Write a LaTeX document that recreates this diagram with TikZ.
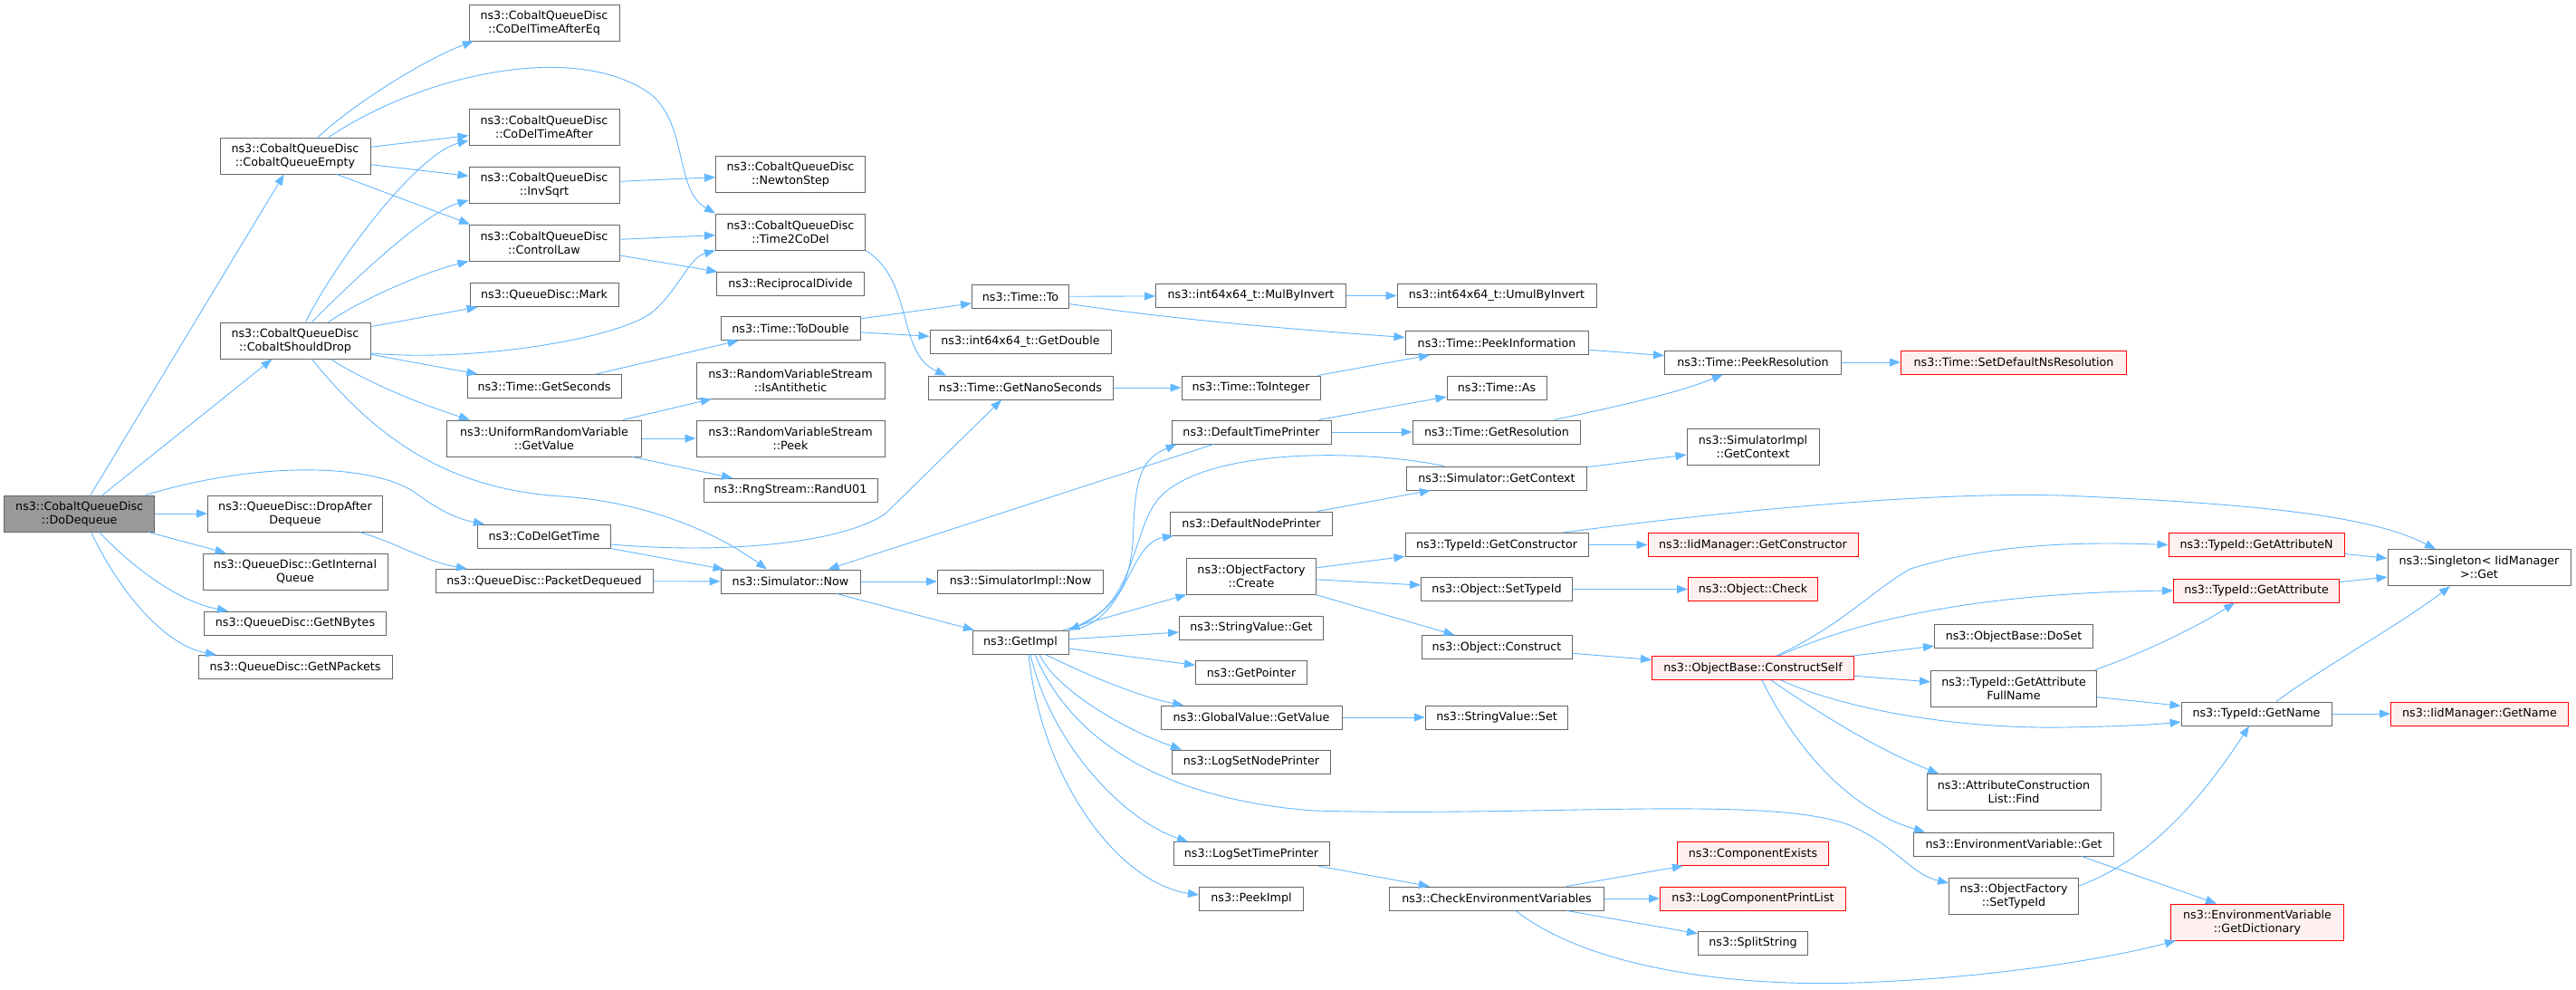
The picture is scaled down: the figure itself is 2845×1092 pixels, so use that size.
\documentclass[tikz,border=0pt]{standalone}
\usepackage{fontspec}
\setmainfont{DejaVu Sans}
\usetikzlibrary{arrows.meta}
\definecolor{edgeblue}{HTML}{63B8FF}
\definecolor{nodegray}{HTML}{666666}
\definecolor{rootgray}{HTML}{999999}
\definecolor{redfill}{HTML}{FFF0F0}
\definecolor{redline}{HTML}{FF0000}
\begin{document}
\begin{tikzpicture}[x=1pt,y=-1pt,
 fn/.style={draw=nodegray, fill=white, line width=1pt, minimum height=26pt, inner sep=0pt, align=center, font=\fontsize{12.7}{15}\selectfont},
 two/.style={minimum height=40pt},
 bw/.style={minimum width=#1pt},
 redn/.style={draw=redline, fill=redfill},
 rootn/.style={fill=rootgray},
 arr/.style={draw=edgeblue, line width=0.9pt, -{Triangle[length=12pt,width=9pt]}},
]
\fill[white] (0,0) rectangle (2845,1092);
\useasboundingbox (0,0) rectangle (2845,1092);
% column 1
\node[fn,rootn,two,bw=166] (dd) at (87.7,567) {ns3::CobaltQueueDisc\\::DoDequeue};
% column 2
\node[fn,two,bw=166] (cqe) at (326,172) {ns3::CobaltQueueDisc\\::CobaltQueueEmpty};
\node[fn,two,bw=166] (csd) at (326,376) {ns3::CobaltQueueDisc\\::CobaltShouldDrop};
\node[fn,two,bw=193] (dad) at (326,567) {ns3::QueueDisc::DropAfter\\Dequeue};
\node[fn,two,bw=204] (giq) at (326,631) {ns3::QueueDisc::GetInternal\\Queue};
\node[fn,bw=201] (gnb) at (326,688) {ns3::QueueDisc::GetNBytes};
\node[fn,bw=214] (gnp) at (326,736.5) {ns3::QueueDisc::GetNPackets};
% column 3
\node[fn,two,bw=166] (tae) at (601,25) {ns3::CobaltQueueDisc\\::CoDelTimeAfterEq};
\node[fn,two,bw=166] (ta) at (601,140) {ns3::CobaltQueueDisc\\::CoDelTimeAfter};
\node[fn,two,bw=166] (isq) at (601,204) {ns3::CobaltQueueDisc\\::InvSqrt};
\node[fn,two,bw=166] (cl) at (601,268) {ns3::CobaltQueueDisc\\::ControlLaw};
\node[fn,bw=164] (mark) at (601,325.5) {ns3::QueueDisc::Mark};
\node[fn,bw=170] (gs) at (601,426.5) {ns3::Time::GetSeconds};
\node[fn,two,bw=215] (urv) at (601,484) {ns3::UniformRandomVariable\\::GetValue};
\node[fn,bw=147] (cgt) at (601,592) {ns3::CoDelGetTime};
\node[fn,bw=240] (pd) at (601,641.5) {ns3::QueueDisc::PacketDequeued};
% column 4
\node[fn,two,bw=165] (ns) at (873,192) {ns3::CobaltQueueDisc\\::NewtonStep};
\node[fn,two,bw=165] (t2c) at (873,256) {ns3::CobaltQueueDisc\\::Time2CoDel};
\node[fn,bw=163] (rd) at (873,313.5) {ns3::ReciprocalDivide};
\node[fn,bw=154] (td) at (873,362.5) {ns3::Time::ToDouble};
\node[fn,two,bw=208] (ia) at (873,420) {ns3::RandomVariableStream\\::IsAntithetic};
\node[fn,two,bw=208] (pk) at (873,484) {ns3::RandomVariableStream\\::Peek};
\node[fn,bw=192] (ru) at (873,541.3) {ns3::RngStream::RandU01};
\node[fn,bw=154] (snow) at (873,642) {ns3::Simulator::Now};
% column 5
\node[fn,bw=107] (tto) at (1127,327.5) {ns3::Time::To};
\node[fn,bw=200] (gd) at (1127,377) {ns3::int64x64\_t::GetDouble};
\node[fn,bw=204] (gns) at (1127,428) {ns3::Time::GetNanoSeconds};
\node[fn,bw=183] (sinow) at (1127,642) {ns3::SimulatorImpl::Now};
\node[fn,bw=106] (gi) at (1127,709) {ns3::GetImpl};
% column 6
\node[fn,bw=210] (mbi) at (1381.5,326.5) {ns3::int64x64\_t::MulByInvert};
\node[fn,bw=153] (ti) at (1381.5,428) {ns3::Time::ToInteger};
\node[fn,bw=176] (dtp) at (1382,477) {ns3::DefaultTimePrinter};
\node[fn,bw=179] (dnp) at (1382,578) {ns3::DefaultNodePrinter};
\node[fn,two,bw=143] (ofc) at (1382,636) {ns3::ObjectFactory\\::Create};
\node[fn,bw=159] (svg) at (1382,693) {ns3::StringValue::Get};
\node[fn,bw=123] (gp) at (1382,742.5) {ns3::GetPointer};
\node[fn,bw=200] (gvv) at (1382,792) {ns3::GlobalValue::GetValue};
\node[fn,bw=175] (lsnp) at (1382,841) {ns3::LogSetNodePrinter};
\node[fn,bw=172] (lstp) at (1382,942.7) {ns3::LogSetTimePrinter};
\node[fn,bw=115] (pi) at (1382,992) {ns3::PeekImpl};
% column 7
\node[fn,bw=220] (umbi) at (1653,326.5) {ns3::int64x64\_t::UmulByInvert};
\node[fn,bw=202] (pinf) at (1653,378.5) {ns3::Time::PeekInformation};
\node[fn,bw=110] (tas) at (1653,428) {ns3::Time::As};
\node[fn,bw=185.5] (gres) at (1653,477) {ns3::Time::GetResolution};
\node[fn,bw=199] (sgc) at (1653,528) {ns3::Simulator::GetContext};
\node[fn,bw=202] (tgc) at (1653,601.5) {ns3::TypeId::GetConstructor};
\node[fn,bw=167] (ost) at (1653,650.5) {ns3::Object::SetTypeId};
\node[fn,bw=166] (oc) at (1653,714.5) {ns3::Object::Construct};
\node[fn,bw=157.5] (svs) at (1653,792) {ns3::StringValue::Set};
\node[fn,bw=237.6] (cev) at (1653,992) {ns3::CheckEnvironmentVariables};
% column 8
\node[fn,bw=195] (pres) at (1936,400) {ns3::Time::PeekResolution};
\node[fn,two,bw=146] (sigc) at (1936,493) {ns3::SimulatorImpl\\::GetContext};
\node[fn,redn,bw=232] (igc) at (1936,601.5) {ns3::IidManager::GetConstructor};
\node[fn,redn,bw=143] (ochk) at (1936,650.5) {ns3::Object::Check};
\node[fn,redn,bw=223] (cs) at (1936,737.5) {ns3::ObjectBase::ConstructSelf};
\node[fn,redn,bw=167] (ce) at (1936,942.5) {ns3::ComponentExists};
\node[fn,redn,bw=205] (lcpl) at (1936,992) {ns3::LogComponentPrintList};
\node[fn,bw=121] (ss) at (1936,1041.3) {ns3::SplitString};
% column 9
\node[fn,redn,bw=249] (sdnr) at (2224,400) {ns3::Time::SetDefaultNsResolution};
\node[fn,bw=175] (dos) at (2224,702.5) {ns3::ObjectBase::DoSet};
\node[fn,two,bw=183] (gafn) at (2224,760) {ns3::TypeId::GetAttribute\\FullName};
\node[fn,two,bw=192] (acl) at (2224,874.5) {ns3::AttributeConstruction\\List::Find};
\node[fn,bw=221] (evg) at (2224,932) {ns3::EnvironmentVariable::Get};
\node[fn,two,bw=143] (ofst) at (2224,989) {ns3::ObjectFactory\\::SetTypeId};
% column 10
\node[fn,redn,bw=194] (gan) at (2492,601.5) {ns3::TypeId::GetAttributeN};
\node[fn,redn,bw=183] (ga) at (2492,652) {ns3::TypeId::GetAttribute};
\node[fn,bw=166] (gn) at (2492,788) {ns3::TypeId::GetName};
\node[fn,redn,two,bw=191] (gdict) at (2493,1018) {ns3::EnvironmentVariable\\::GetDictionary};
% column 11
\node[fn,two,bw=202] (sg) at (2738,626.7) {ns3::Singleton< IidManager\\>::Get};
\node[fn,redn,bw=196] (ign) at (2738.5,788) {ns3::IidManager::GetName};

% ---- straight connectors
\foreach \a/\b in {dd/cqe, dd/csd, dd/dad, dd/giq, cqe/ta, cqe/isq, csd/mark, csd/gs,
  isq/ns, cl/t2c, cl/rd, gs/td, td/tto, td/gd, tto/mbi, urv/ia, urv/pk, urv/ru,
  pd/snow, cgt/snow, snow/sinow, snow/gi, dtp/snow, mbi/umbi, gns/ti, ti/pinf,
  pinf/pres, pres/sdnr, dtp/tas, dtp/gres, gi/ofc, gi/svg, gi/gp, dnp/sgc, sgc/sigc,
  ofc/tgc, ofc/ost, ofc/oc, tgc/igc, ost/ochk, oc/cs, gvv/svs, lstp/cev, cev/ce,
  cev/lcpl, cev/ss, cs/dos, cs/gafn, gan/sg, ga/sg, gafn/gn, gn/ign}
  \draw[arr] (\a) -- (\b);

% ---- curved connectors
\draw[arr] ([xshift=22pt]dd.south) .. controls (150,630) and (200,665) .. ([xshift=-74pt]gnb.north);
\draw[arr] ([xshift=13pt]dd.south) .. controls (130,650) and (180,712) .. ([xshift=-87pt]gnp.north);
\draw[arr] ([xshift=73pt]dd.north) .. controls (300,505) and (420,515) .. (460,545)
   .. controls (490,567) and (510,574) .. ([xshift=-66pt]cgt.north);
\draw[arr] ([xshift=25pt]cqe.north) .. controls (390,115) and (470,65) .. ([xshift=-78pt]tae.south);
\draw[arr] ([xshift=37pt]cqe.north) .. controls (470,80) and (640,45) .. (720,105)
   .. controls (760,140) and (745,210) .. (t2c.north west);
\draw[arr] ([xshift=46pt]cqe.south) -- ([xshift=-82pt]cl.north);
\draw[arr] ([xshift=11.5pt]csd.north) .. controls (370,290) and (460,170) .. ([yshift=-15pt]ta.west);
\draw[arr] ([xshift=18.4pt]csd.north) .. controls (400,300) and (470,235) .. ([yshift=-17pt]isq.west);
\draw[arr] ([xshift=36.7pt]csd.north) .. controls (400,330) and (470,300) .. (cl.south west);
\draw[arr] ([yshift=-14pt]csd.east) .. controls (520,400) and (680,375) .. (720,345)
   .. controls (750,320) and (760,285) .. (t2c.south west);
\draw[arr] ([xshift=39pt]csd.south) .. controls (410,425) and (470,448) .. ([xshift=-82pt]urv.north);
\draw[arr] ([xshift=18.4pt]csd.south) .. controls (420,490) and (500,540) .. (620,548)
   .. controls (700,553) and (780,580) .. ([xshift=-26pt]snow.north);
\draw[arr] ([xshift=71pt]dad.south) .. controls (440,600) and (470,620) .. ([xshift=-85pt]pd.north);
\draw[arr] ([yshift=-9pt]cgt.east) .. controls (800,612) and (930,600) .. (978,567) -- ([xshift=-21pt]gns.south);
\draw[arr] (t2c.south east) .. controls (1010,310) and (990,390) .. ([xshift=-82pt]gns.north);
\draw[arr] ([yshift=-8pt]tto.east) .. controls (1290,352) and (1420,363) .. ([yshift=6pt]pinf.west);
\draw[arr] (gres) .. controls (1780,450) and (1850,435) .. (pres);
\draw[arr] (gi.north east) .. controls (1240,670) and (1250,640) .. (1252,580)
   .. controls (1254,520) and (1265,505) .. ([xshift=6pt]dtp.south west);
\draw[arr] (gi.north east) .. controls (1245,690) and (1245,600) .. ([xshift=4pt]dnp.south west);
\draw[arr] ([xshift=-58pt]sgc.north) .. controls (1500,495) and (1330,495) .. (1280,550)
   .. controls (1250,585) and (1255,665) .. (gi.north east);
\draw[arr] (gi) .. controls (1200,745) and (1260,770) .. (gvv);
\draw[arr] ([xshift=21pt]gi.south) .. controls (1165,760) and (1240,805) .. ([xshift=-77pt]lsnp.north);
\draw[arr] ([xshift=16pt]gi.south) .. controls (1175,800) and (1260,880) .. (1450,895)
   .. controls (1700,902) and (1950,878) .. (2040,910)
   .. controls (2090,930) and (2110,965) .. ([yshift=14pt]ofst.west);
\draw[arr] ([xshift=11pt]gi.south) .. controls (1160,820) and (1240,905) .. ([xshift=-70pt]lstp.north);
\draw[arr] ([xshift=9pt]gi.south) .. controls (1150,860) and (1235,975) .. ([yshift=4pt]pi.west);
\draw[arr] ([xshift=73pt]tgc.north) .. controls (1900,565) and (2150,540) .. (2300,548)
   .. controls (2500,557) and (2620,570) .. ([xshift=-48pt]sg.north);
\draw[arr] ([xshift=26pt]cs.north) .. controls (2035,690) and (2070,650) .. (2110,628)
   .. controls (2200,600) and (2300,598) .. (gan.west);
\draw[arr] ([xshift=29pt]cs.north) .. controls (2030,695) and (2150,655) .. (ga.west);
\draw[arr] ([xshift=31pt]cs.south) .. controls (2030,780) and (2150,805) .. (2280,803)
   .. controls (2340,802) and (2380,800) .. ([yshift=-9pt]gn.west);
\draw[arr] ([xshift=20pt]cs.south) .. controls (2020,795) and (2080,830) .. ([xshift=-83pt]acl.north);
\draw[arr] ([xshift=10pt]cs.south) .. controls (1985,830) and (2045,895) .. ([xshift=-98pt]evg.north);
\draw[arr] ([xshift=-2pt]gafn.north east) .. controls (2370,720) and (2430,690) .. ([xshift=-24pt]ga.south);
\draw[arr] ([xshift=22pt]gn.north) .. controls (2560,740) and (2650,690) .. ([xshift=-32pt]sg.south);
\draw[arr] ([yshift=11pt]ofst.east) .. controls (2360,955) and (2420,900) .. ([xshift=-8pt]gn.south);
\draw[arr] ([xshift=75pt]evg.south) -- ([xshift=-45pt]gdict.north);
\draw[arr] ([xshift=21pt]cev.south) .. controls (1750,1065) and (1900,1090) .. (2050,1085)
   .. controls (2200,1080) and (2330,1058) .. ([xshift=6pt]gdict.south west);
\end{tikzpicture}
\end{document}
